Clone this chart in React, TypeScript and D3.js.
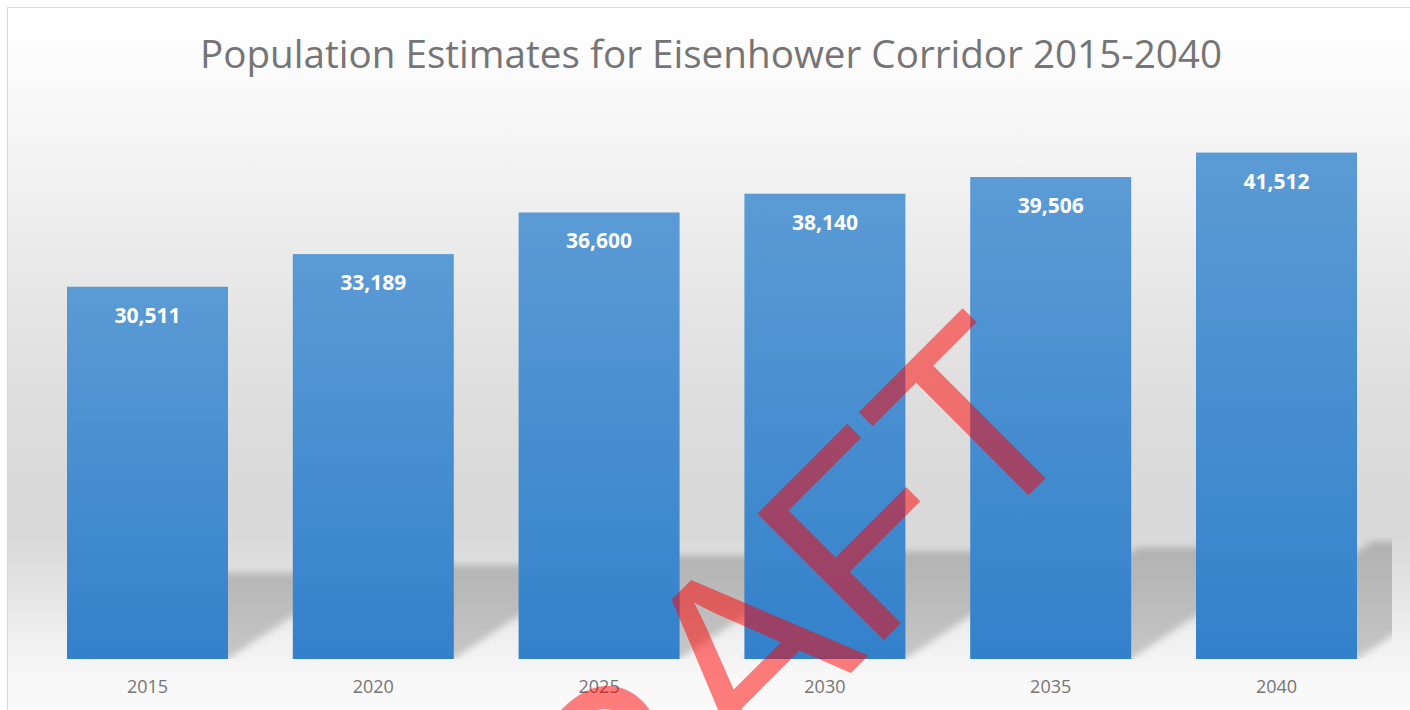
import React from "react";
import * as d3 from "d3";

const title = "Population Estimates for Eisenhower Corridor 2015-2040";
const years = ["2015", "2020", "2025", "2030", "2035", "2040"];
const population = [30511, 33189, 36600, 38140, 39506, 41512];
const yMax = 45000;
const watermark = "DRAFT";

const W = 1410;
const H = 710;

export default function App() {
  const x = d3
    .scaleBand<string>()
    .domain(years)
    .range([34.6, 1389.4])
    .paddingInner(0.287)
    .paddingOuter(0.1435);
  const y = d3.scaleLinear().domain([0, yMax]).range([659, 110]);
  const base = y(0);
  const fmt = d3.format(",");

  const bgStops: [number, string][] = [
    [7, "#ffffff"],
    [60, "#fcfcfc"],
    [150, "#f4f4f4"],
    [290, "#e7e7e7"],
    [400, "#dedede"],
    [500, "#d9d9d9"],
    [540, "#dadada"],
    [600, "#e6e6e6"],
    [640, "#f0f0f0"],
    [680, "#f8f8f8"],
    [710, "#fafafa"],
  ];

  const shadowScale = 0.232;
  const skew = 1.5;

  const shadowPath = (d: number, i: number) => {
    const x0 = x(years[i])!;
    const x1 = x0 + x.bandwidth();
    const h = base - y(d);
    const sh = h * shadowScale;
    const dx = sh * skew;
    const p = d3.path();
    p.moveTo(x0, base);
    p.lineTo(x1, base);
    p.lineTo(x1 + dx, base - sh);
    p.lineTo(x0 + dx, base - sh);
    p.closePath();
    return p.toString();
  };

  return (
    <svg
      width={W}
      height={H}
      style={{ position: "absolute", left: 0, top: 0, display: "block" }}
    >
      <defs>
        <linearGradient id="bg" gradientUnits="userSpaceOnUse" x1={0} y1={7} x2={0} y2={710}>
          {bgStops.map(([yy, c], i) => (
            <stop key={i} offset={(yy - 7) / 703} stopColor={c} />
          ))}
        </linearGradient>
        <linearGradient id="barGrad" x1={0} y1={0} x2={0} y2={1}>
          <stop offset={0} stopColor="#5b9bd5" />
          <stop offset={1} stopColor="#3381cb" />
        </linearGradient>
        <filter id="blur" x="-20%" y="-20%" width="140%" height="140%">
          <feGaussianBlur stdDeviation={3.5} />
        </filter>
        <clipPath id="shadowClip">
          <rect x={0} y={0} width={1392} height={base} />
        </clipPath>
      </defs>

      <rect x={7.5} y={7.5} width={1420} height={720} fill="url(#bg)" stroke="#d9d9d9" strokeWidth={1} />

      <text
        x={711}
        y={68}
        textAnchor="middle"
        fontFamily="'Open Sans', sans-serif"
        fontSize={39}
        fill="#757575"
        textLength={1022}
        lengthAdjust="spacingAndGlyphs"
      >
        {title}
      </text>

      <g clipPath="url(#shadowClip)">
        <g filter="url(#blur)">
          {population.map((d, i) => (
            <path key={i} d={shadowPath(d, i)} fill="#000" fillOpacity={0.19} />
          ))}
        </g>
      </g>

      {population.map((d, i) => (
        <rect
          key={i}
          x={x(years[i])}
          y={y(d)}
          width={x.bandwidth()}
          height={base - y(d)}
          fill="url(#barGrad)"
        />
      ))}

      {population.map((d, i) => (
        <text
          key={i}
          x={x(years[i])! + x.bandwidth() / 2}
          y={y(d) + 36}
          textAnchor="middle"
          fontFamily="'Open Sans', sans-serif"
          fontWeight="bold"
          fontSize={21}
          fill="#ffffff"
        >
          {fmt(d)}
        </text>
      ))}

      {years.map((yr) => (
        <text
          key={yr}
          x={x(yr)! + x.bandwidth() / 2}
          y={693}
          textAnchor="middle"
          fontFamily="'Open Sans', sans-serif"
          fontSize={18}
          fill="#757575"
        >
          {yr}
        </text>
      ))}

      <text
        transform="translate(787,737) rotate(-45)"
        textAnchor="middle"
        fontFamily="'Liberation Sans', Arial, sans-serif"
        fontSize={260}
        fill="#ff0000"
        fillOpacity={0.5}
      >
        {watermark}
      </text>
    </svg>
  );
}
